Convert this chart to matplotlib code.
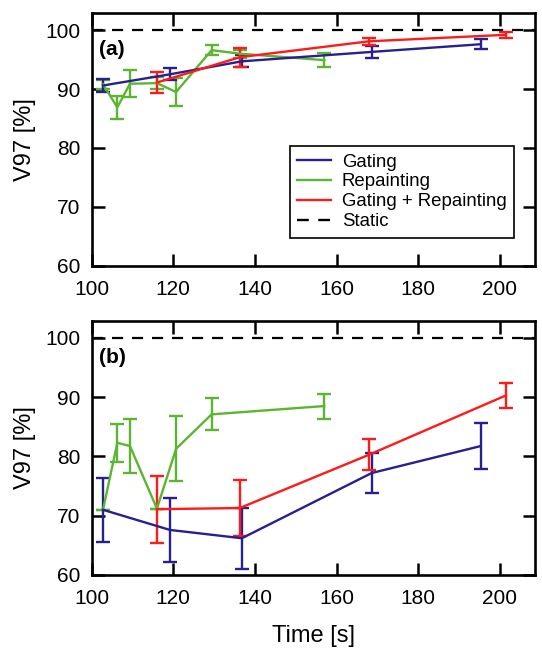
import matplotlib
matplotlib.use('Agg')
import matplotlib.pyplot as plt
from matplotlib.lines import Line2D

plt.rcParams['font.family'] = ['Liberation Sans', 'DejaVu Sans']

# (a) values
gat_a_t = [102.8, 119.2, 136.8, 168.6, 195.3]
gat_a_v = [90.6, 92.5, 94.7, 96.3, 97.6]
gat_a_e = [1.1, 1.05, 1.0, 1.05, 0.85]

rep_a_t = [102.8, 106.3, 109.4, 116.0, 120.7, 129.4, 136.3, 157.0]
rep_a_v = [90.8, 86.9, 90.9, 91.0, 89.5, 96.6, 96.0, 94.9]
rep_a_e = [0.8, 1.95, 2.25, 1.0, 2.4, 0.9, 0.7, 1.15]

gr_a_t = [116.0, 136.3, 168.0, 201.5]
gr_a_v = [91.1, 95.4, 98.1, 99.2]
gr_a_e = [1.75, 1.6, 0.6, 0.55]

# (b)
gat_b_t = [102.8, 119.2, 136.8, 168.6, 195.3]
gat_b_v = [71.0, 67.6, 66.2, 77.2, 81.75]
gat_b_e = [5.35, 5.45, 5.15, 3.4, 3.85]

rep_b_t = [102.8, 106.3, 109.4, 116.0, 120.7, 129.4, 157.0]
rep_b_v = [71.0, 82.3, 81.75, 71.2, 81.3, 87.1, 88.5]
rep_b_e = [0.0, 3.2, 4.6, 0.0, 5.5, 2.7, 2.1]

gr_b_t = [116.0, 136.3, 168.0, 201.5]
gr_b_v = [71.1, 71.3, 80.3, 90.3]
gr_b_e = [5.65, 4.7, 2.6, 2.05]

static_level = 100

blue = '#28208f'
green = '#5cb532'
red = '#ff1a1a'
dash = (0, (5, 4))

fig = plt.figure(figsize=(5.42, 6.5), dpi=100)
ax1 = fig.add_axes([0.169, 0.591, 0.818, 0.389])
ax2 = fig.add_axes([0.169, 0.1154, 0.818, 0.3912])


def panel(ax, gat, rep, gr, tag):
    kw = dict(lw=1.7, capsize=5, capthick=1.7, elinewidth=1.7)
    ax.errorbar(rep[0], rep[1], yerr=rep[2], color=green, **kw)
    ax.errorbar(gat[0], gat[1], yerr=gat[2], color=blue, **kw)
    ax.errorbar(gr[0], gr[1], yerr=gr[2], color=red, **kw)
    ax.axhline(static_level, color='black', lw=1.6, ls=dash)
    ax.set_xlim(100, 208.6)
    ax.set_ylim(60, 102.9)
    ax.set_xticks([100, 120, 140, 160, 180, 200])
    ax.set_yticks([60, 70, 80, 90, 100])
    ax.tick_params(direction='in', length=9, width=1.8, top=True, right=True,
                   labelsize=15)
    ax.tick_params(axis='x', pad=10)
    ax.tick_params(axis='y', pad=8)
    for s in ax.spines.values():
        s.set_linewidth(1.9)
    ax.set_ylabel('V97 [%]', fontsize=17)
    ax.yaxis.set_label_coords(-0.125, 0.5)
    ax.text(0.017, 0.855, tag, transform=ax.transAxes, fontsize=15,
            fontweight='bold', va='center')


panel(ax1, (gat_a_t, gat_a_v, gat_a_e), (rep_a_t, rep_a_v, rep_a_e),
      (gr_a_t, gr_a_v, gr_a_e), '(a)')
panel(ax2, (gat_b_t, gat_b_v, gat_b_e), (rep_b_t, rep_b_v, rep_b_e),
      (gr_b_t, gr_b_v, gr_b_e), '(b)')
ax2.set_xlabel('Time [s]', fontsize=17)
ax2.xaxis.set_label_coords(0.5, -0.195)

handles = [Line2D([], [], color=blue, lw=1.7),
           Line2D([], [], color=green, lw=1.7),
           Line2D([], [], color=red, lw=1.7),
           Line2D([], [], color='black', lw=1.7, ls=dash)]
labels = ['Gating', 'Repainting', 'Gating + Repainting', 'Static']
leg = ax1.legend(handles, labels, loc='lower right',
                 bbox_to_anchor=(0.953, 0.112), fontsize=13.4, fancybox=False,
                 edgecolor='black', framealpha=1, handlelength=1.8,
                 labelspacing=0.15, borderpad=0.4, handletextpad=0.6,
                 borderaxespad=0)
leg.get_frame().set_linewidth(1.2)

fig.savefig('out.png', dpi=100)
